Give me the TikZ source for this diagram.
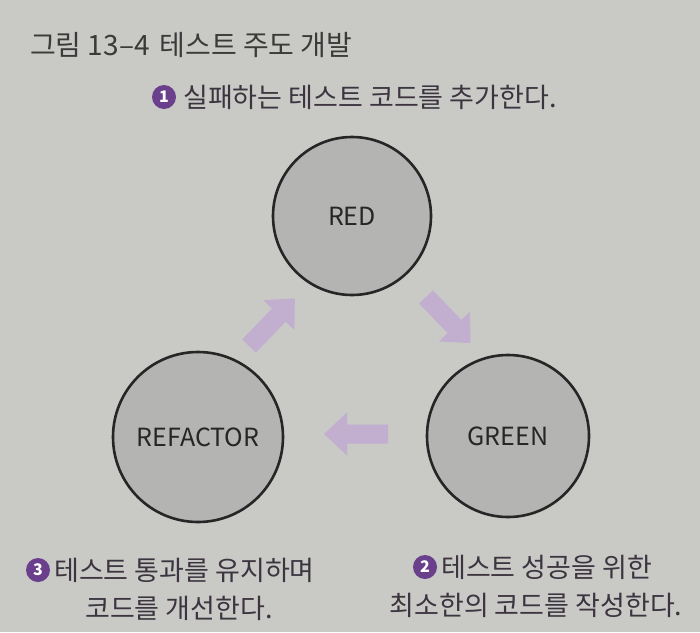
\documentclass[tikz,border=0pt]{standalone}
\usepackage{fontspec}
\setmainfont{Noto Sans CJK KR}
\newfontfamily\labfont{Noto Sans CJK KR}
\definecolor{bg}{HTML}{C9C9C6}
\definecolor{circfill}{HTML}{B4B4B3}
\definecolor{arrowc}{HTML}{C2AECF}
\definecolor{numc}{HTML}{6A3F8C}
\definecolor{txt}{HTML}{3C3540}
\definecolor{titlec}{HTML}{3A3A3A}
\tikzset{
  stage/.style={circle, draw=black!85, line width=2.6pt, fill=circfill, minimum size=158pt, inner sep=0pt, font=\labfont\fontsize{25}{25}\selectfont, text=black!85},
  numdot/.style={circle, fill=numc, text=white, minimum size=24pt, inner sep=0pt, font=\bfseries\fontsize{16}{16}\selectfont},
  desc/.style={anchor=west, inner sep=0pt, text=txt, font=\fontsize{27}{27}\selectfont},
  descc/.style={inner sep=0pt, text=txt, font=\fontsize{27}{27}\selectfont},
  blockarrow/.style={fill=arrowc}
}
\newcommand\barrow[3]{%
  \begin{scope}[shift={(#1)}, rotate=#2]
    \fill[blockarrow] (0,-9.5) -- (#3-23,-9.5) -- (#3-23,-21.5) -- (#3,0) -- (#3-23,21.5) -- (#3-23,9.5) -- (0,9.5) -- cycle;
  \end{scope}}
\begin{document}
\begin{tikzpicture}[x=1pt,y=-1pt]
\fill[bg] (0,0) rectangle (700,632);
\useasboundingbox (0,0) rectangle (700,632);
% title
\node[anchor=west, inner sep=0pt, text=titlec, font=\fontsize{28}{28}\selectfont] (title) at (30,45) {그림 13–4\hspace{10pt}테스트 주도 개발};
% step 1 label
\node[numdot] (n1) at (164,97) {1};
\node[desc] (t1) at (183,97) {실패하는 테스트 코드를 추가한다.};
% circles
\node[stage] (red) at (352,216) {RED};
\node[stage, minimum size=162pt] (green) at (508,436) {GREEN};
\node[stage, minimum size=170pt] (refactor) at (198,437) {REFACTOR};
% arrows
\barrow{249,346}{46}{66}
\barrow{426,297}{-46}{64}
\barrow{388,434}{180}{64}
% step 3 label
\node[numdot] (n3) at (38,570) {3};
\node[desc] (t3a) at (54,570) {테스트 통과를 유지하며};
\node[descc] (t3b) at (179,608) {코드를 개선한다.};
% step 2 label
\node[numdot] (n2) at (425,567) {2};
\node[desc] (t2a) at (441,567) {테스트 성공을 위한};
\node[descc] (t2b) at (536,605) {최소한의 코드를 작성한다.};
\end{tikzpicture}
\end{document}
